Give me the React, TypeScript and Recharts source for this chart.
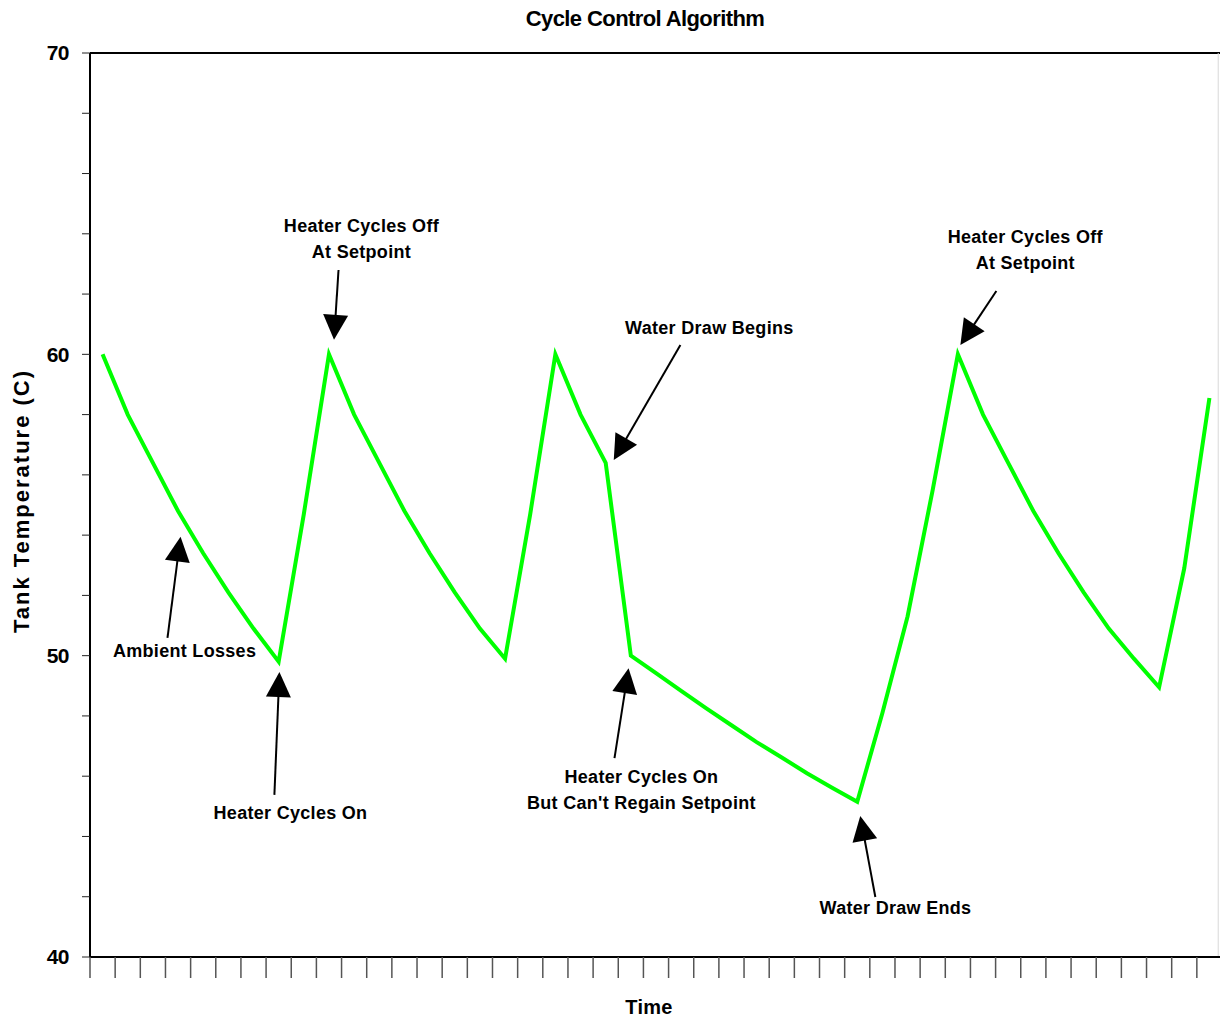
import React from 'react';
import { LineChart, Line, XAxis, YAxis, ReferenceLine, ReferenceDot } from 'recharts';

// ---- data ----
const timeSteps = [
  0, 1, 2, 3, 4, 5, 6, 7, 8, 9, 10, 11, 12, 13, 14, 15, 16, 17, 18, 19, 20, 21, 22,
  23, 24, 25, 26, 27, 28, 29, 30, 31, 32, 33, 34, 35, 36, 37, 38, 39, 40, 41, 42, 43, 44,
];
const tankTemperature = [
  60, 58.0, 56.4, 54.8, 53.4, 52.1, 50.9, 49.8, 54.7,
  60, 58.0, 56.4, 54.8, 53.4, 52.1, 50.9, 49.9, 54.7,
  60, 58.0, 56.4, 50.0, 49.42, 48.83, 48.25, 47.69, 47.13, 46.62, 46.1, 45.62, 45.15,
  48.1, 51.3, 55.5,
  60, 58.0, 56.4, 54.8, 53.4, 52.1, 50.9, 49.9, 48.95, 52.9, 58.55,
];
const timeTicks = [
  -0.5, 0.5, 1.5, 2.5, 3.5, 4.5, 5.5, 6.5, 7.5, 8.5, 9.5, 10.5, 11.5, 12.5, 13.5, 14.5,
  15.5, 16.5, 17.5, 18.5, 19.5, 20.5, 21.5, 22.5, 23.5, 24.5, 25.5, 26.5, 27.5, 28.5,
  29.5, 30.5, 31.5, 32.5, 33.5, 34.5, 35.5, 36.5, 37.5, 38.5, 39.5, 40.5, 41.5, 42.5,
  43.5, 44.5,
];
const temperatureTicks = [40, 42, 44, 46, 48, 50, 52, 54, 56, 58, 60, 62, 64, 66, 68, 70];
const temperatureLabels = [40, 50, 60, 70];

// annotations (data coordinates)
const annotationText = [
  ['Ambient Losses'],
  ['Heater Cycles On'],
  ['Heater Cycles Off', 'At Setpoint'],
  ['Water Draw Begins'],
  ['Heater Cycles On', "But Can't Regain Setpoint"],
  ['Water Draw Ends'],
  ['Heater Cycles Off', 'At Setpoint'],
];
const annotationTextTime = [3.26, 7.47, 10.29, 24.12, 21.42, 31.52, 36.68];
const annotationTextTemp = [50.15, 44.78, 63.84, 60.87, 45.54, 41.62, 63.45];
const arrowTailTime = [2.58, 6.83, 9.38, 22.97, 20.35, 30.72, 35.53];
const arrowTailTemp = [50.59, 45.38, 62.8, 60.31, 46.6, 41.99, 62.1];
const arrowTipTime = [3.1, 7.03, 9.2, 20.32, 20.91, 30.12, 34.1];
const arrowTipTemp = [53.95, 49.46, 60.48, 56.49, 49.58, 44.68, 60.31];

const chartData = timeSteps.map((time, i) => ({ time, temperature: tankTemperature[i] }));

const FONT = '"Liberation Sans", Arial, Helvetica, sans-serif';

const ArrowShape = (props: any) => {
  const { x1, y1, x2, y2 } = props;
  const dx = x2 - x1;
  const dy = y2 - y1;
  const len = Math.sqrt(dx * dx + dy * dy) || 1;
  const ux = dx / len;
  const uy = dy / len;
  const headLen = 25;
  const halfW = 12.5;
  const bx = x2 - ux * headLen;
  const by = y2 - uy * headLen;
  const px = -uy;
  const py = ux;
  const pts = `${x2},${y2} ${bx + px * halfW},${by + py * halfW} ${bx - px * halfW},${by - py * halfW}`;
  return (
    <g>
      <line x1={x1} y1={y1} x2={bx + ux * 2} y2={by + uy * 2} stroke="#000" strokeWidth={2} />
      <polygon points={pts} fill="#000" />
    </g>
  );
};

const makeTextShape = (lines: string[]) => (props: any) => {
  const { cx, cy } = props;
  const lh = 26;
  const start = cy - ((lines.length - 1) * lh) / 2;
  return (
    <g>
      {lines.map((t, i) => (
        <text
          key={i}
          x={cx}
          y={start + i * lh}
          textAnchor="middle"
          dominantBaseline="central"
          fontFamily={FONT}
          fontWeight="bold"
          fontSize={18}
          letterSpacing={0.3}
          fill="#000"
        >
          {t}
        </text>
      ))}
    </g>
  );
};

export default function App() {
  return (
    <div style={{ position: 'absolute', left: 0, top: 0, width: 1220, height: 1020, background: '#fff', overflow: 'hidden', fontFamily: FONT }}>
      <LineChart
        width={1220}
        height={1020}
        data={chartData}
        margin={{ top: 53, right: -2, bottom: 0, left: 0 }}
      >
        <XAxis
          dataKey="time"
          type="number"
          domain={[-0.5, 44.5]}
          ticks={timeTicks}
          interval={0}
          allowDataOverflow
          height={63}
          tickSize={21}
          tickLine={{ stroke: '#555', strokeWidth: 1.5 }}
          axisLine={{ stroke: '#000', strokeWidth: 2 }}
          tickFormatter={() => ''}
        />
        <YAxis
          type="number"
          domain={[40, 70]}
          ticks={temperatureTicks}
          interval={0}
          allowDataOverflow
          width={90}
          tickSize={8}
          tickMargin={13}
          tickLine={{ stroke: '#222', strokeWidth: 1 }}
          axisLine={{ stroke: '#000', strokeWidth: 2 }}
          tick={{ fontSize: 21, fontWeight: 'bold', fill: '#000', fontFamily: FONT, letterSpacing: -0.5 }}
          tickFormatter={(v: number) => (temperatureLabels.includes(v) ? String(v) : '')}
        />
        <ReferenceLine y={70} stroke="#000" strokeWidth={2} />
        <ReferenceLine x={44.35} stroke="#d8d8d8" strokeWidth={1} />
        <Line
          type="linear"
          dataKey="temperature"
          stroke="#00ff00"
          strokeWidth={4}
          dot={false}
          activeDot={false}
          isAnimationActive={false}
        />
        {annotationText.map((lines, i) => (
          <ReferenceLine
            key={`arrow-${i}`}
            segment={[
              { x: arrowTailTime[i], y: arrowTailTemp[i] },
              { x: arrowTipTime[i], y: arrowTipTemp[i] },
            ]}
            ifOverflow="visible"
            shape={ArrowShape}
          />
        ))}
        {annotationText.map((lines, i) => (
          <ReferenceDot
            key={`text-${i}`}
            x={annotationTextTime[i]}
            y={annotationTextTemp[i]}
            r={0}
            ifOverflow="visible"
            shape={makeTextShape(lines)}
          />
        ))}
      </LineChart>
      <div
        style={{
          position: 'absolute', left: 645, top: 19, transform: 'translate(-50%, -50%)',
          fontSize: 22, fontWeight: 'bold', letterSpacing: -0.6, whiteSpace: 'nowrap', color: '#000',
        }}
      >
        Cycle Control Algorithm
      </div>
      <div
        style={{
          position: 'absolute', left: 22, top: 501, transform: 'translate(-50%, -50%) rotate(-90deg)',
          fontSize: 22, fontWeight: 'bold', letterSpacing: 2, whiteSpace: 'nowrap', color: '#000',
        }}
      >
        Tank Temperature (C)
      </div>
      <div
        style={{
          position: 'absolute', left: 649, top: 1007, transform: 'translate(-50%, -50%)',
          fontSize: 20, fontWeight: 'bold', letterSpacing: 0.3, whiteSpace: 'nowrap', color: '#000',
        }}
      >
        Time
      </div>
    </div>
  );
}
